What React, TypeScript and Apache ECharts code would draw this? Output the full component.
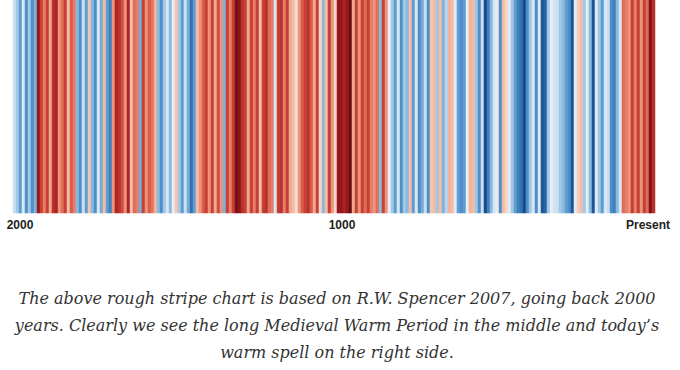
import React, { useEffect, useRef } from "react";
import * as echarts from "echarts";

// Temperature anomaly per stripe (oldest at left, present at right)
const anomalies: number[] = [
  -0.6, -1.0, -1.6, -0.4, -1.8, -1.0, -1.8, -1.3, 2.6, 2.0,
  1.2, 2.0, 0.8, 2.2, 2.4, 1.0, 1.4, 2.0, 0.6, 1.6,
  1.2, -1.2, -1.8, -0.6, -1.6, 0.5, -1.2, -1.8, -0.4, -1.4,
  0.6, -1.6, -2.0, 1.0, 2.4, 2.2, 1.8, 1.0, 2.4, 0.6,
  1.4, 1.2, -1.4, 2.0, 1.0, 1.6, 1.3, 0.7, -1.2, -1.8,
  -1.0, -0.4, -1.2, -0.2, 0.5, -1.0, -1.6, -0.6, -1.4, -2.2,
  -1.6, 0.6, 1.0, 1.6, 2.0, 1.0, 2.0, 0.8, 1.8, 1.0,
  -1.3, 2.0, 1.2, 2.0, 2.9, 2.7, 2.2, 2.0, 0.8, 2.0,
  1.2, 2.0, 0.6, 2.0, 2.2, 1.4, 1.2, -0.4, 2.0, 2.2,
  1.2, 2.0, 0.8, 0.6, 0.2, 1.0, 1.6, 2.0, 2.2, 1.6,
  0.8, 2.0, 0.3, -1.2, 0.6, 2.0, 1.0, 0.3, 2.6, 2.6,
  2.4, 2.6, 3.0, 0.8, 2.0, 1.0, 2.0, 1.4, 2.0, 1.2,
  1.0, 1.4, -1.2, 2.0, 1.0, -0.2, -1.0, -1.6, -0.4, -1.8,
  -1.0, -1.2, 0.6, -1.6, -0.4, -1.8, -1.4, -0.6, -1.8, 0.5,
  0.6, -1.0, 0.6, -1.3, -0.8, 0.7, 0.6, -0.3, -1.6, -1.8,
  -1.6, -0.2, 0.7, 0.6, -1.0, -1.8, -0.6, -2.8, -2.0, -1.2,
  -0.4, -0.1, -1.8, 0.6, 0.3, -0.3, -1.0, -1.6, -2.0, -2.2,
  -2.8, -1.8, -1.0, -0.4, -1.8, -0.4, -2.6, -2.4, -1.0, -0.2,
  -0.5, -0.6, -1.0, -1.2, -1.6, -1.8, -2.6, -0.3, 0.4, 0.6,
  -1.0, -0.3, -1.2, -2.6, -0.3, -1.0, -1.6, -0.4, -0.6, -1.8,
  -2.0, -1.2, -0.4, 1.4, 1.2, 1.0, 2.0, 1.2, 2.0, 1.0,
  2.0, 1.4, 2.8, 2.2,
];

const stripeCategories: string[] = anomalies.map((_, i) => String(i));

const tickLabels: string[] = ["2000", "1000", "Present"];

const captionLines: string[] = [
  "The above rough stripe chart is based on R.W. Spencer 2007, going back 2000",
  "years. Clearly we see the long Medieval Warm Period in the middle and today\u2019s",
  "warm spell on the right side.",
];

const palette: string[] = [
  "#123d73", "#1f5a9e", "#3a7ab9", "#5d9bcf", "#8fbde0", "#c3dbee", "#e6eef6",
  "#f8dccd", "#f3b49c", "#e8826c", "#d85a48", "#c23b32", "#9e1b1f", "#6a0d12",
];

export default function App() {
  const ref = useRef<HTMLDivElement>(null);

  useEffect(() => {
    if (!ref.current) return;
    const chart = echarts.init(ref.current, undefined, { renderer: "svg" });

    const tickX = [20, 342, 648];

    chart.setOption({
      animation: false,
      backgroundColor: "#ffffff",
      grid: { left: 13, right: 25, top: 0, height: 213 },
      xAxis: { type: "category", data: stripeCategories, show: false },
      yAxis: { type: "category", data: ["stripes"], show: false },
      visualMap: {
        show: false,
        type: "continuous",
        min: -3,
        max: 3,
        dimension: 2,
        inRange: { color: palette },
      },
      series: [
        {
          type: "heatmap",
          data: anomalies.map((v, i) => [i, 0, v]),
          itemStyle: { borderWidth: 0 },
          emphasis: { disabled: true },
        },
      ],
      graphic: [
        ...tickLabels.map((t, i) => ({
          type: "text",
          x: tickX[i],
          y: 225,
          style: {
            text: t,
            fill: "#222222",
            font: "bold 12px 'Liberation Sans', Arial, sans-serif",
            align: "center",
            verticalAlign: "middle",
          },
        })),
        ...captionLines.map((line, i) => ({
          type: "text",
          x: 337,
          y: 298 + i * 27,
          style: {
            text: line,
            fill: "#333333",
            font: "italic 16px 'DejaVu Serif', serif",
            align: "center",
            verticalAlign: "middle",
          },
        })),
      ],
    });

    return () => chart.dispose();
  }, []);

  return (
    <div ref={ref} style={{ position: "fixed", left: 0, top: 0, width: 680, height: 370 }} />
  );
}
